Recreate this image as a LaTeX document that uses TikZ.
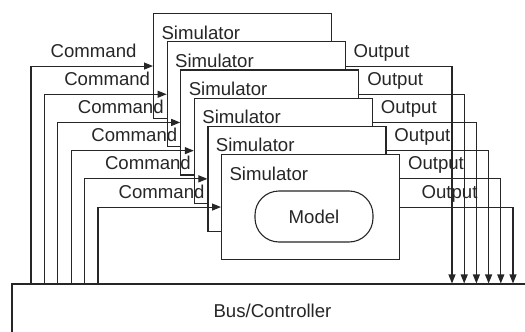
\documentclass[tikz,border=0pt]{standalone}
\usepackage{fontspec}
\setmainfont{Liberation Sans}
\usetikzlibrary{arrows.meta}
\begin{document}
\begin{tikzpicture}[x=1pt,y=-1pt, line width=1.1pt, draw=black!85,
  every node/.style={font=\fontsize{18.6}{22}\selectfont, inner sep=0pt, text=black!85},
  simbox/.style={draw, fill=white, minimum width=178pt, minimum height=105pt},
  modelbox/.style={draw, rounded corners=24pt, minimum width=118pt, minimum height=51pt},
  busbox/.style={draw, minimum width=521pt, minimum height=54pt},
  arr/.style={-{Triangle[length=9pt,width=7pt]}}]
\useasboundingbox (0,0) rectangle (525,332);
\begin{scope}
\clip (0,0) rectangle (525,332);
\node[busbox] (bus) at (272.5,311) {Bus/Controller};
\end{scope}
\foreach \i in {1,...,6}{
  \pgfmathsetmacro\L{153+13.6*(\i-1)}
  \pgfmathsetmacro\T{13+28.2*(\i-1)}
  \pgfmathsetmacro\cx{31+13.4*(\i-1)}
  \pgfmathsetmacro\ox{452+12.2*(\i-1)}
  \coordinate (cx\i) at (\cx,0);
  \coordinate (ox\i) at (\ox,0);
  \node[simbox, anchor=north west] (sim\i) at (\L,\T) {};
  \node[anchor=base west] (simlbl\i) at ([xshift=8pt, yshift=-26pt]sim\i.north west) {Simulator};
  \draw[arr] (bus.north -| cx\i) |- (sim\i.west);
  \draw[arr] (sim\i.east) -| (bus.north -| ox\i);
  \node[anchor=base east] (cmd\i) at ([xshift=-16pt, yshift=9pt]sim\i.west) {Command};
  \node[anchor=base west] (out\i) at ([xshift=21pt, yshift=9pt]sim\i.east) {Output};
}
\node[modelbox] (model) at (314,216.5) {Model};
\end{tikzpicture}
\end{document}
